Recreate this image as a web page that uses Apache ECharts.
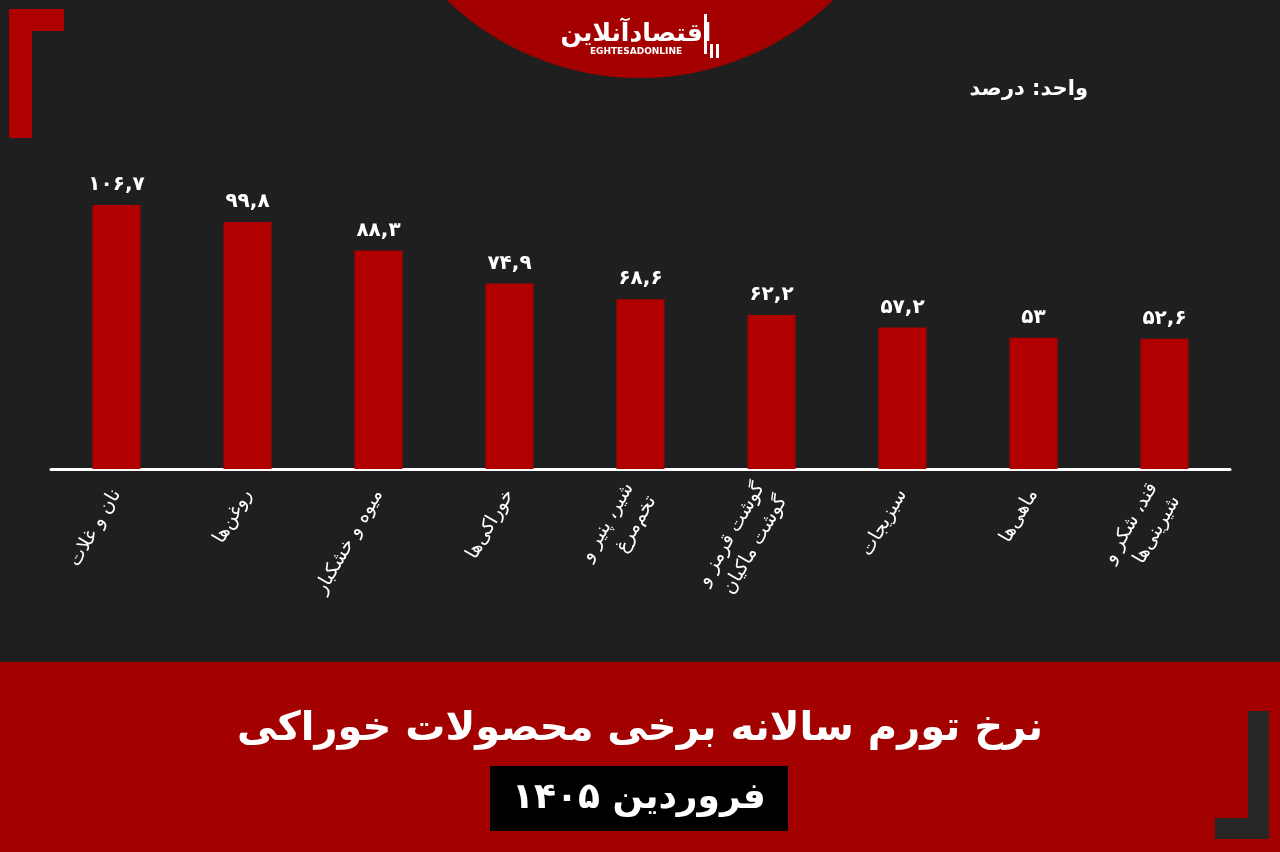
<!DOCTYPE html>
<html><head><meta charset="utf-8">
<script src="https://cdn.jsdelivr.net/npm/echarts@6/dist/echarts.min.js"></script>
<style>html,body{margin:0;padding:0;background:#1f1f1f;}#c{width:1280px;height:852px;}</style>
</head><body><div id="c"></div>
<script>
const categories = [
  'نان و غلات',
  'روغن‌ها',
  'میوه و خشکبار',
  'خوراکی‌ها',
  'شیر، پنیر و\nتخم‌مرغ',
  'گوشت قرمز و\nگوشت ماکیان',
  'سبزیجات',
  'ماهی‌ها',
  'قند، شکر و\nشیرینی‌ها'
];
const values = [106.7, 99.8, 88.3, 74.9, 68.6, 62.2, 57.2, 53, 52.6];
const titleText = 'نرخ تورم سالانه برخی محصولات خوراکی';
const subtitleText = 'فروردین ۱۴۰۵';
const unitText = 'واحد: درصد';

const fa = s => String(s).replace(/\d/g, d => '۰۱۲۳۴۵۶۷۸۹'[d]).replace('.', ',');
const FONT = '"DejaVu Sans", "Noto Sans", sans-serif';

const chart = echarts.init(document.getElementById('c'));
chart.setOption({
  backgroundColor: '#1f1f1f',
  animation: false,
  grid: { left: 51, right: 50, top: 172, height: 297 },
  xAxis: {
    type: 'category',
    data: categories,
    axisLine: { lineStyle: { color: '#ffffff', width: 3 } },
    axisTick: { show: false },
    axisLabel: { rotate: 60, margin: 22, color: '#ffffff', fontSize: 19, fontFamily: FONT, lineHeight: 26, interval: 0 }
  },
  yAxis: { type: 'value', min: 0, max: 120, show: false, splitLine: { show: false } },
  series: [{
    type: 'bar',
    data: values,
    barWidth: 48,
    itemStyle: { color: '#b00000' },
    label: {
      show: true, position: 'top', distance: 10,
      color: '#ffffff', fontSize: 20, fontWeight: 'bold', fontFamily: FONT,
      formatter: p => fa(p.value)
    }
  }],
  graphic: [
    { type: 'rect', z: -1, shape: { x: 0, y: 662, width: 1280, height: 190 }, style: { fill: '#a30000' } },
    { type: 'circle', shape: { cx: 640, cy: -200, r: 278 }, style: { fill: '#a50000' } },
    { type: 'text', x: 636, y: 34, style: { text: 'اقتصادآنلاین', fill: '#ffffff', font: 'bold 25px ' + FONT, align: 'center', verticalAlign: 'middle' } },
    { type: 'text', x: 636, y: 52, style: { text: 'EGHTESADONLINE', fill: '#ffffff', font: 'bold 9px ' + FONT, align: 'center', verticalAlign: 'middle' } },
    { type: 'rect', shape: { x: 704, y: 14, width: 3, height: 40 }, style: { fill: '#ffffff' } },
    { type: 'rect', shape: { x: 710, y: 44, width: 3, height: 14 }, style: { fill: '#ffffff' } },
    { type: 'rect', shape: { x: 716, y: 44, width: 3, height: 14 }, style: { fill: '#ffffff' } },
    { type: 'rect', shape: { x: 9, y: 9, width: 23, height: 129 }, style: { fill: '#b00000' } },
    { type: 'rect', shape: { x: 9, y: 9, width: 55, height: 22 }, style: { fill: '#b00000' } },
    { type: 'rect', shape: { x: 1248, y: 711, width: 21, height: 128 }, style: { fill: '#262626' } },
    { type: 'rect', shape: { x: 1215, y: 818, width: 54, height: 21 }, style: { fill: '#262626' } },
    { type: 'text', x: 1088, y: 90, style: { text: unitText, fill: '#ffffff', font: 'bold 21px ' + FONT, align: 'right', verticalAlign: 'middle' } },
    { type: 'text', x: 640, y: 730, style: { text: titleText, fill: '#ffffff', font: 'bold 40px ' + FONT, align: 'center', verticalAlign: 'middle' } },
    { type: 'rect', shape: { x: 490, y: 766, width: 298, height: 65 }, style: { fill: '#000000' } },
    { type: 'text', x: 639, y: 799, style: { text: subtitleText, fill: '#ffffff', font: 'bold 36px ' + FONT, align: 'center', verticalAlign: 'middle' } }
  ]
});
</script></body></html>
